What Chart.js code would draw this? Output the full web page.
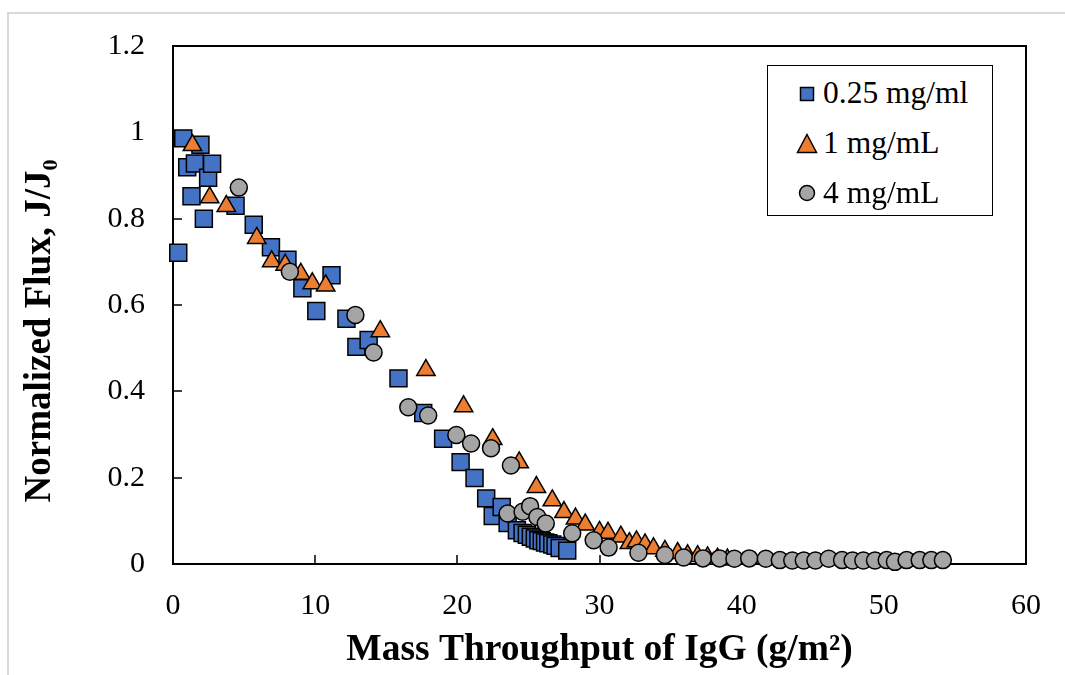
<!DOCTYPE html>
<html>
<head>
<meta charset="utf-8">
<script src="https://cdn.jsdelivr.net/npm/chart.js@4.4.1/dist/chart.umd.min.js"></script>
<style>
html,body{margin:0;padding:0;background:#fff;overflow:hidden;}
#wrap{position:relative;width:1065px;height:675px;overflow:hidden;}
#frame{position:absolute;left:7px;top:12px;width:1200px;height:800px;border:2px solid #d9d9d9;box-sizing:border-box;}
#chart{position:absolute;left:0;top:0;}
#legend{position:absolute;left:767px;top:65px;width:226px;height:151px;border:1.5px solid #000;box-sizing:border-box;background:#fff;font-family:"Liberation Serif","Times New Roman",serif;font-size:31.5px;color:#000;}
.row{position:absolute;left:0;height:50px;width:100%;}
.row svg{position:absolute;}
.row span{position:absolute;left:55px;top:0;line-height:50px;white-space:nowrap;}
</style>
</head>
<body>
<div id="wrap">
  <div id="frame"></div>
  <canvas id="chart" width="1065" height="675"></canvas>
  <div id="legend"></div>
</div>
<script>
// ---------- data ----------
const seriesNames = ['0.25 mg/ml', '1 mg/mL', '4 mg/mL'];

const sq025X = [0.37,0.72,1.0,1.3,1.54,1.93,2.17,2.47,2.75,4.4,5.68,6.89,8.05,9.1,10.08,11.15,12.2,12.9,13.76,15.86,17.6,19.0,20.23,21.21,22.03,22.49,23.12,23.54,24.19,24.59,24.89,25.17,25.45,25.7,25.94,26.17,26.4,26.68,26.91,27.2,27.73];
const sq025Y = [0.721,0.986,0.919,0.852,0.928,0.971,0.80,0.895,0.927,0.83,0.786,0.734,0.705,0.639,0.586,0.669,0.568,0.503,0.519,0.43,0.35,0.29,0.236,0.199,0.152,0.111,0.132,0.095,0.078,0.072,0.068,0.063,0.059,0.055,0.053,0.05,0.048,0.045,0.042,0.037,0.031];

const tri1X = [1.37,2.58,3.75,5.89,6.94,7.89,8.99,9.8,10.74,14.58,17.79,20.44,22.49,24.35,25.56,26.68,27.5,28.31,29.0,30.0,30.6,31.5,32.1,32.6,33.2,33.8,34.6,35.5,36.2,36.9,37.6,38.3,39.0];
const tri1Y = [0.97,0.849,0.829,0.755,0.701,0.693,0.672,0.65,0.645,0.539,0.449,0.365,0.289,0.235,0.178,0.147,0.12,0.105,0.091,0.074,0.072,0.063,0.048,0.052,0.045,0.036,0.03,0.025,0.02,0.018,0.015,0.012,0.01];

const circ4X = [4.63,8.22,12.83,14.11,16.55,17.95,19.93,20.97,22.37,23.54,23.77,24.59,25.12,25.63,26.22,28.08,29.59,30.64,32.74,34.6,35.92,37.28,38.44,39.49,40.53,41.7,42.68,43.56,44.37,45.19,46.12,47.06,47.8,48.56,49.38,50.2,50.78,51.6,52.52,53.34,54.15];
const circ4Y = [0.872,0.677,0.577,0.49,0.363,0.344,0.299,0.279,0.268,0.117,0.228,0.121,0.134,0.109,0.094,0.071,0.055,0.038,0.026,0.021,0.015,0.013,0.013,0.012,0.013,0.012,0.009,0.008,0.008,0.008,0.012,0.009,0.008,0.008,0.008,0.009,0.005,0.009,0.009,0.009,0.009];

const xTickLabels = ['0','10','20','30','40','50','60'];
const yTickLabels = ['0','0.2','0.4','0.6','0.8','1','1.2'];
const xTitle = 'Mass Throughput of IgG (g/m\u00B2)';
const yTitle = 'Normalized Flux, J/J\u2080';

// ---------- build ----------
const pts = (xs, ys) => xs.map((x, i) => ({x: x, y: ys[i]}));
const colors = ['#4472C4', '#ED7D31', '#A5A5A5'];
const serif = '"Liberation Serif", "Times New Roman", serif';

const frameTicks = {
  id: 'frameTicks',
  beforeDatasetsDraw(chart) {
    const {ctx, chartArea: a, scales} = chart;
    ctx.save();
    ctx.strokeStyle = '#000';
    ctx.lineWidth = 2;
    ctx.strokeRect(a.left, a.top, a.right - a.left, a.bottom - a.top);
    ctx.beginPath();
    scales.x.ticks.forEach(t => {
      const px = Math.round(scales.x.getPixelForValue(t.value));
      ctx.moveTo(px, a.bottom); ctx.lineTo(px, a.bottom - 9);
    });
    scales.y.ticks.forEach(t => {
      const py = Math.round(scales.y.getPixelForValue(t.value));
      ctx.moveTo(a.left, py); ctx.lineTo(a.left + 9, py);
    });
    ctx.lineWidth = 1.5;
    ctx.stroke();
    ctx.restore();
  },
  afterDraw(chart) {
    // y-axis title, placed like the original (slightly below the plot's centre)
    const ctx = chart.ctx;
    ctx.save();
    ctx.translate(40, 331);
    ctx.rotate(-Math.PI / 2);
    ctx.font = 'bold 37px ' + serif;
    ctx.fillStyle = '#000';
    ctx.textAlign = 'center';
    ctx.textBaseline = 'middle';
    ctx.fillText(yTitle, 0, 0);
    ctx.restore();
  }
};

const tickFont = {family: serif, size: 30};
const titleFont = {family: serif, size: 37.5, weight: 'bold'};

new Chart(document.getElementById('chart'), {
  type: 'scatter',
  data: {
    datasets: [
      {label: seriesNames[0], data: pts(sq025X, sq025Y), pointStyle: 'rect', pointRadius: 12, pointHoverRadius: 12,
       backgroundColor: colors[0], borderColor: '#000', borderWidth: 1.5, order: 3, clip: false},
      {label: seriesNames[1], data: pts(tri1X, tri1Y), pointStyle: 'triangle', pointRadius: 10.6, pointHoverRadius: 10.6,
       backgroundColor: colors[1], borderColor: '#000', borderWidth: 1.5, order: 2, clip: false},
      {label: seriesNames[2], data: pts(circ4X, circ4Y), pointStyle: 'circle', pointRadius: 8.5, pointHoverRadius: 8.5,
       backgroundColor: colors[2], borderColor: '#000', borderWidth: 1.5, order: 1, clip: false}
    ]
  },
  options: {
    responsive: false,
    animation: false,
    devicePixelRatio: 1,
    layout: {padding: {top: 44, right: 33, left: 0, bottom: 0}},
    plugins: {legend: {display: false}, tooltip: {enabled: false}},
    scales: {
      x: {
        type: 'linear', min: 0, max: 60,
        afterFit(s) { s.height = 111; },
        grid: {display: false, drawTicks: false},
        border: {display: false},
        ticks: {stepSize: 10, padding: 24, color: '#000', font: tickFont,
                callback: (v, i) => xTickLabels[i]},
        title: {display: true, text: xTitle, color: '#000', font: titleFont, padding: {top: 0, bottom: 2}}
      },
      y: {
        type: 'linear', min: 0, max: 1.2,
        afterFit(s) { s.width = 173; },
        grid: {display: false, drawTicks: false},
        border: {display: false},
        ticks: {stepSize: 0.2, padding: 28, color: '#000', font: tickFont,
                callback: (v, i) => yTickLabels[i]},
        title: {display: false, text: yTitle}
      }
    }
  },
  plugins: [frameTicks]
});

// ---------- legend (HTML) ----------
const markerSvgs = [
  '<svg width="16" height="16" viewBox="0 0 16 16"><rect x="1.5" y="1.5" width="13" height="13" fill="' + colors[0] + '" stroke="#000" stroke-width="1.5"/></svg>',
  '<svg width="22" height="21" viewBox="0 0 22 21"><polygon points="11,1.5 20.5,19.5 1.5,19.5" fill="' + colors[1] + '" stroke="#000" stroke-width="1.5"/></svg>',
  '<svg width="18" height="18" viewBox="0 0 18 18"><circle cx="9" cy="9" r="7.5" fill="' + colors[2] + '" stroke="#000" stroke-width="1.5"/></svg>'
];
const markerOffsets = [[31, 18], [28, 15], [30, 16]];
const leg = document.getElementById('legend');
seriesNames.forEach((name, i) => {
  const row = document.createElement('div');
  row.className = 'row';
  row.style.top = (2 + i * 50) + 'px';
  row.innerHTML = markerSvgs[i] + '<span>' + name + '</span>';
  const svg = row.querySelector('svg');
  svg.style.left = markerOffsets[i][0] + 'px';
  svg.style.top = markerOffsets[i][1] + 'px';
  leg.appendChild(row);
});
</script>
</body>
</html>
